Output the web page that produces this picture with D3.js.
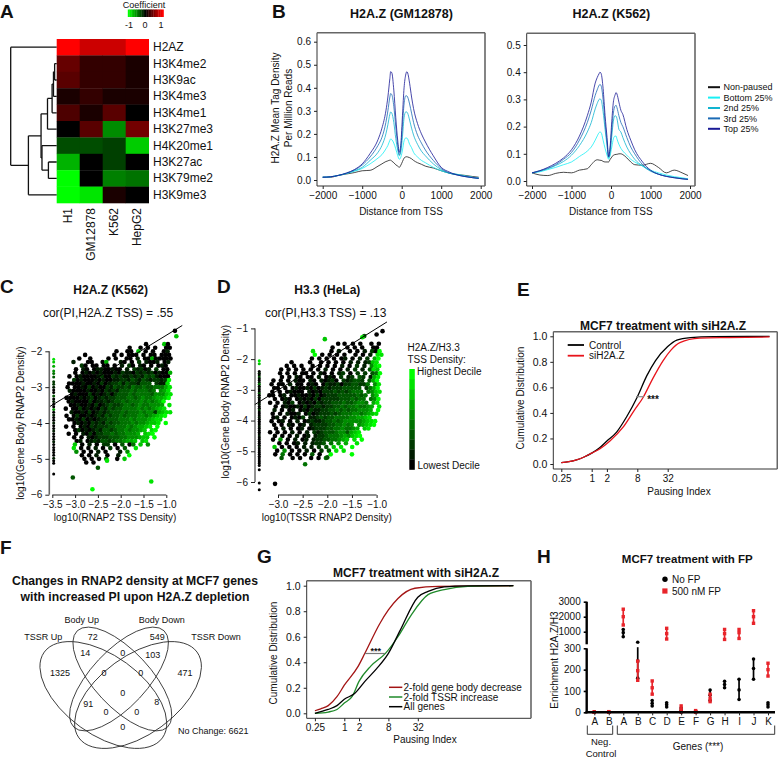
<!DOCTYPE html>
<html><head><meta charset="utf-8">
<script src="https://cdn.jsdelivr.net/npm/d3@7"></script>
<style>
html,body{margin:0;padding:0;background:#fff}
svg{display:block;font-family:"Liberation Sans",Arial,sans-serif}
text{fill:#111}
</style></head><body><div id="c"></div>
<script>
// ---------- Panel A ----------
const histoneMarks=["H2AZ","H3K4me2","H3K9ac","H3K4me3","H3K4me1","H3K27me3","H4K20me1","H3K27ac","H3K79me2","H3K9me3"];
const cellLines=["H1","GM12878","K562","HepG2"];
const coefficients=[[1,.8,.8,1],[.4,.2,.2,.1],[.35,.2,.2,.1],[.1,.2,.1,.1],[.3,.1,.35,0],[0,.35,-.55,.45],[-.3,-.3,-.25,-.8],[-.7,0,-.25,0],[-1,0,-.5,-.45],[-1,-.9,.1,0]];
const dendrogramTree={h:0,c:["H2AZ",{h:.385,c:[{h:.66,c:[{h:.8,c:[{h:.9,c:[{h:.93,c:[{h:.955,c:["H3K4me2","H3K9ac"]},"H3K4me3"]},"H3K4me1"]},"H3K27me3"]},{h:.68,c:["H4K20me1",{h:.82,c:["H3K27ac","H3K79me2"]}]}]},"H3K9me3"]}]};
// ---------- Panel B ----------
const tssDistance=[-2000,-1800,-1600,-1400,-1200,-1000,-800,-600,-500,-400,-350,-300,-280,-250,-200,-150,-100,-60,-20,20,60,100,130,150,200,250,300,400,500,600,800,1000,1200,1400,1600,1800,1950];
const pauseGroups=["Non-paused","Bottom 25%","2nd 25%","3rd 25%","Top 25%"];
const pauseColors=["#111111","#19f0f5","#12b4d0","#1b6bb5","#1a1a96"];
const gmNonPaused=[.012,.012,.02,.026,.032,.04,.042,.06,.07,.08,.083,.086,.086,.082,.075,.066,.06,.055,.065,.08,.095,.10,.101,.10,.097,.092,.085,.075,.068,.06,.052,.04,.03,.024,.02,.015,.012];
const gmBottom=[.012,.014,.02,.028,.038,.05,.07,.095,.11,.135,.15,.172,.178,.175,.16,.135,.105,.09,.10,.13,.17,.182,.182,.178,.155,.14,.12,.10,.085,.075,.055,.04,.03,.025,.018,.012,.008];
const gmSecond=[.012,.014,.02,.028,.04,.055,.085,.12,.15,.20,.24,.285,.295,.29,.25,.18,.13,.105,.125,.19,.27,.295,.295,.29,.26,.225,.195,.155,.125,.105,.07,.045,.03,.023,.016,.01,.007];
const gmThird=[.012,.014,.02,.03,.043,.065,.10,.15,.185,.25,.30,.36,.375,.37,.32,.23,.15,.11,.14,.24,.33,.365,.365,.36,.33,.29,.25,.195,.16,.13,.085,.05,.03,.022,.015,.01,.007];
const gmTop=[.012,.014,.02,.03,.045,.07,.115,.175,.225,.30,.36,.44,.47,.465,.39,.27,.17,.12,.16,.28,.40,.455,.47,.465,.42,.36,.31,.245,.20,.165,.105,.055,.035,.022,.015,.01,.007];
const kNonPaused=[.03,.022,.02,.028,.032,.03,.04,.045,.06,.075,.078,.077,.076,.076,.072,.07,.07,.07,.08,.088,.095,.097,.098,.098,.10,.1,.097,.085,.07,.06,.058,.065,.05,.03,.04,.03,.02];
const kBottom=[.03,.034,.042,.05,.06,.07,.09,.11,.125,.15,.165,.178,.18,.178,.15,.12,.095,.08,.095,.125,.155,.165,.165,.155,.135,.12,.11,.095,.08,.07,.055,.04,.03,.022,.016,.012,.008];
const kSecond=[.03,.036,.045,.057,.072,.095,.13,.18,.215,.265,.285,.30,.302,.298,.255,.19,.13,.085,.105,.165,.22,.24,.238,.23,.19,.18,.16,.125,.10,.08,.055,.036,.025,.018,.013,.009,.006];
const kThird=[.03,.038,.047,.06,.08,.105,.15,.215,.26,.315,.335,.352,.355,.35,.30,.215,.14,.088,.12,.19,.25,.275,.278,.27,.24,.215,.20,.16,.125,.10,.06,.038,.025,.017,.012,.008,.006];
const kTop=[.03,.038,.05,.065,.085,.115,.165,.24,.29,.36,.38,.395,.40,.395,.34,.24,.16,.09,.13,.22,.29,.315,.325,.32,.29,.26,.245,.19,.15,.115,.07,.04,.025,.017,.012,.008,.006];
// ---------- Panel C: rows, one digit per dot = decile ----------
const cRowY=[-1.8,-1.9,-2,-2.1,-2.2,-2.3,-2.4,-2.5,-2.6,-2.7,-2.8,-2.9,-3,-3.1,-3.2,-3.3,-3.4,-3.5,-3.6,-3.7,-3.8,-3.9,-4,-4.1,-4.2,-4.3,-4.4,-4.5,-4.6,-4.7,-4.8,-4.9,-5,-5.1];
const cRowShift=[.2,.7,.1,.5,.9,.3,.6,0,.8,.2,.5,.1,.7,.3,.9,.4,0,.6,.2,.8,.4,.1,.6,.3,.8,0,.5,.2,.7,.4,.1,.6,.3,.8];
const cRows=[
"                       0    70",
"                  0  0 0 0  00",
"               0  00 7 0 0  01",
"      0       0 0 000 0 00 000",
"    0  0    0 0  00 1 00600000",
"   1   00  06   10 0 2 1001 01",
"     20 00 00 0 1 20 10 0 010",
"    0 10 01100100 1 21201 2 00",
"   0 0101010001021102121201006",
"  0 01000012002121121213231000",
"   201000101001122132132122129",
"  00001001020122313221333 2118",
" 0 001020100213223243343344468",
"  100001001021213334344434 568",
"  0100020101202333434444355578",
" 00001012012122333443454456679",
"  010000201121233434445454569",
"  00100102012322344345445556 8",
" 0 00201010213233444454545678 ",
"  1001020121233343444545526788",
" 0 02001012132334344455456789 ",
"  00102010122333444545556788  ",
"   010102121323344454556778 9 ",
" 0 0 01021222334445456678 9   ",
"   02010121332344545567 89    ",
"  0 0 1020223343445556 789    ",
"   0 0 10122233344555677 9    ",
"    01 01213323445667 78      ",
"   7 0 1 0 22 0 3 04 7 5      ",
"   8 0 0 1 0 2 0 3  8         ",
"    5 0 0 1 0   1 5           ",
"     0 0 1  0  1  9           ",
"      0 0 0 3  0 7            ",
"      0 0                     "];
const cLooseX=[-0.81,-0.78,-2.5,-3.05,-2.62,-1.33,-2.3];
const cLooseY=[-1.43,-1.58,-5.25,-5.52,-5.85,-5.63,-5.05];
const cLooseDecile=[0,7,3,3,9,8,8];
const cColumnY=[-2.22,-2.3,-2.42,-2.55,-2.62,-2.72,-2.85,-2.92,-3,-3.08,-3.15,-3.25,-3.33,-3.4,-3.48,-3.55,-3.62,-3.7,-3.78,-3.85,-3.92,-4,-4.08,-4.15,-4.22,-4.3,-4.38,-4.45,-4.52,-4.6,-4.68,-4.75,-4.82,-4.9,-4.98,-5.05,-5.12,-5.42];
const cColumnDecile=[8,7,6,5,4,3,2,2,1,0,0,3,0,1,0,0,5,0,1,0,0,1,0,0,1,0,0,0,1,0,0,0,0,0,1,0,0,0];
// ---------- Panel D ----------
const dRowY=[-1.5,-1.62,-1.74,-1.86,-1.98,-2.1,-2.22,-2.34,-2.46,-2.58,-2.7,-2.82,-2.94,-3.06,-3.18,-3.3,-3.42,-3.54,-3.66,-3.78,-3.9,-4.02,-4.14,-4.26,-4.38,-4.5,-4.62,-4.74,-4.86,-4.98,-5.1,-5.22];
const dRowShift=[.6,.1,.8,.3,.5,0,.7,.2,.9,.4,.1,.6,.3,.8,0,.5,.2,.7,.4,.9,.1,.6,.3,.8,.2,.5,0,.7,.4,.1,.6,.3];
const dRows=[
"                   0   0 0  0 0",
"                  0   0 0 0  00",
"            8    0 1  0 0 1 209",
"             9 0 0 0 0  0 0 1 88",
"            0 0 0 0 01 0 1 2 69",
"       0    0  0 0 0 0 1 1 1278",
"     0 0 0  0 0 0 0 1 0 2 1 589",
"    0 0 0 0 0 0 1 0 0 1 2 1 387",
"   0 0 0 00 0 10 0 12 0 2 2 349",
"    0 0 10 00 1 010 2 12 32 168",
"  0 0 0 100 10 10120 212332 369",
" 0 00 1 00 010 0211202233224 58",
"  00 0 0100102012122233333 2469",
" 0 0 01000 101022232323444 4578",
" 00 01 001001020122233333434 57",
"  0 010 0101020222223334344 459",
" 0 0 102 0101021223334334554 68",
"  0 0100102012212233434454456 8",
"  1 0 01 01021122334343445556 9",
" 0 0 1001 02012223234445545678 ",
"  01 0 0102 11232334444556678  ",
" 0 01 0 1 01211233434555556789 ",
"  0 0 10 01 122223344545 56789 ",
"  0 1 0 01 01222334454456 78   ",
" 0 0 0 1 0 1 2123334553678     ",
"  0 0 0 1 01 1223444565789     ",
"  0 5 0 1 01 1223344567 8 9    ",
"   0 0 01 1 1223 4 5 6  8      ",
"  7 0 0 0 1 1 2 3 7 8  9       ",
"   0 5 0 0 1 0 2 3 8 8         ",
"  0 4 0 0 0 3 0  9             ",
"    3  0 0  0 0 4              "];
const dLooseX=[-2.05,-1.65,-1.25,-0.88,-1.29,-1.0,-2.45,-2.0,-1.5,-3.06];
const dLooseY=[-1.35,-1.5,-1.25,-1.09,-1.29,-1.2,-5.42,-5.2,-5.1,-6.06];
const dLooseDecile=[7,0,3,0,8,0,4,3,9,0];
const dColumnY=[-2.05,-2.15,-2.4,-2.46,-2.52,-2.58,-2.64,-2.7,-2.76,-2.82,-2.88,-2.94,-3,-3.06,-3.12,-3.18,-3.24,-3.3,-3.36,-3.42,-3.48,-3.54,-3.6,-3.66,-3.72,-3.78,-3.84,-3.9,-3.96,-4.02,-4.08,-4.14,-4.2,-4.26,-4.32,-4.38,-4.44,-4.5,-4.56,-4.62,-4.68,-4.74,-4.8,-4.86,-4.92,-4.98,-5.04,-5.1,-5.16,-5.22,-5.28,-5.34,-5.4,-5.46,-5.6,-6.03,-6.25];
const dColumnDecile=[8,7,0,1,0,3,0,0,1,4,0,1,0,0,3,0,1,0,0,0,1,0,0,2,0,0,0,1,0,0,0,0,1,0,0,0,0,1,0,0,0,0,0,1,0,0,0,0,0,0,0,0,0,0,0,0,0];
const decileLabels=["Highest Decile","Lowest Decile"];
const decileSteps=[9,8,7,6,5,4,3,2,1,0];
// ---------- Panel E ----------
const eControlLog2=[-2,-1.5,-1,-.5,0,.5,1,1.64,2.3,3,3.62,4.2,5,5.6,6.5,8,11.7];
const eControlCdf=[.01,.018,.032,.055,.085,.125,.18,.25,.37,.525,.69,.81,.92,.97,.99,.998,1];
const eSiLog2=[-2,-1.5,-1,-.5,0,.55,1.2,2.08,2.8,3.4,4,4.7,5.2,5.8,7.1,9,11.7];
const eSiCdf=[.01,.018,.032,.055,.085,.12,.18,.29,.42,.525,.665,.81,.89,.95,.985,.99,.995];
const eLegend=["Control","siH2A.Z"];
const pauseTicks=[-2,0,1,3,5];
const pauseTickLabels=["0.25","1","2","8","32"];
// ---------- Panel F ----------
const vennCounts=["72","549","14","0","103","1325","0","0","471","0","91","8","0","0","0"];
const vennSets=["Body Up","Body Down","TSSR Up","TSSR Down"];
// ---------- Panel G ----------
const gRedLog2=[-2,-1.6,-1.09,-.5,0,.95,1.4,2.4,3,3.65,4.8,6.4,11.5];
const gRedCdf=[.02,.035,.06,.13,.22,.37,.47,.70,.81,.90,.98,.995,1];
const gGreenLog2=[-2,-1.1,-.5,0,.55,1,1.8,2.8,3.65,4.55,5.7,6.8,8.4,11.5];
const gGreenCdf=[0,.01,.03,.08,.135,.25,.37,.47,.6,.77,.93,.97,.995,1];
const gBlackLog2=[-2,-1.1,-.5,0,.7,1.4,2.2,3,3.8,5,5.7,6.8,8.4,11.5];
const gBlackCdf=[0,.03,.06,.11,.155,.25,.35,.47,.65,.91,.955,.99,.998,1];
const gLegend=["2-fold gene body decrease","2-fold TSSR increase","All genes"];
// ---------- Panel H ----------
const hCategories=["nA","nB","A","B","C","D","E","F","G","H","I","J","K"];
const hLabels=["A","B","A","B","C","D","E","F","G","H","I","J","K"];
const hNoFpLow=[0,0,741,160,30,25,0,0,55,115,60,155,25];
const hNoFpMid=[0,0,950,240,42,35,10,3,80,130,105,205,35];
const hNoFpHigh=[0,0,1150,450,55,45,20,6,104,145,155,250,45];
const hFpLow=[0,0,1447,150,85,622,2,0,50,600,650,1560,170];
const hFpMid=[0,0,2000,195,115,900,15,3,65,900,950,2000,200];
const hFpHigh=[2,3,2500,240,147,1226,30,8,85,1150,1150,2400,230];
const hTicks=[0,100,200,300,1000,2000,3000];

const svg=d3.select("#c").append("svg").attr("width",778).attr("height",759).attr("viewBox","0 0 778 759");
const TXT=(x,y,s,o={})=>{const t=svg.append("text").attr("x",x).attr("y",y).text(s)
  .attr("font-size",o.fs||10).attr("text-anchor",o.a||"start").attr("font-weight",o.b?"bold":null);
  if(o.r!=null)t.attr("transform",`rotate(${o.r},${x},${y})`);return t;};
[["A",0,18],["B",272,18],["C",0,293],["D",217,293],["E",517,296],["F",0,554],["G",257,563],["H",537,563]]
  .forEach(d=>TXT(d[1],d[2],d[0],{fs:19,b:true}));

// ===== A
const cScale=d3.scaleLinear().domain([-1,0,1]).range(["#00ff00","#000000","#ff0000"]);
const ax=d3.scaleBand().domain(cellLines).range([56.7,148.7]);
const ay=d3.scaleBand().domain(histoneMarks).range([39,203]);
coefficients.forEach((row,i)=>row.forEach((v,j)=>svg.append("rect").attr("x",ax(cellLines[j])).attr("y",ay(histoneMarks[i]))
  .attr("width",ax.bandwidth()+.3).attr("height",ay.bandwidth()+.3).attr("fill",cScale(v))));
histoneMarks.forEach(m=>TXT(153,ay(m)+ay.bandwidth()/2+4,m,{fs:12}));
cellLines.forEach(c=>{const x=ax(c)+ax.bandwidth()/2+4;TXT(x,208,c,{fs:12,a:"end",r:-90});});
(function(){
  function draw(n){
    if(typeof n==="string")return{y:ay(n)+ay.bandwidth()/2,x:56.7};
    const x=d3.scaleLinear().domain([0,1]).range([10.7,56.7])(n.h);
    const k=n.c.map(draw),y=(k[0].y+k[1].y)/2;
    const p=d3.path();
    k.forEach(q=>{p.moveTo(x,q.y);p.lineTo(q.x,q.y);});
    p.moveTo(x,k[0].y);p.lineTo(x,k[1].y);
    svg.append("path").attr("d",p.toString()).attr("fill","none").attr("stroke","#111").attr("stroke-width",1.3);
    return{x,y};
  }
  draw(dendrogramTree);
})();
const lgX=d3.scaleLinear().domain([-1,1]).range([128,162]);
d3.range(-1,1.001,.1).forEach(v=>svg.append("rect").attr("x",lgX(v)-.2).attr("y",9.5).attr("width",2).attr("height",7.5).attr("fill",cScale(v)));
TXT(144,8,"Coefficient",{fs:9,a:"middle"});
[-1,0,1].forEach(v=>TXT(lgX(v)+(v==-1?1:v==1?-1:0),28,v==-1?"-1":v,{fs:9,a:"middle"}));

// helpers
function styleAxis(g,fs){g.selectAll("text").attr("font-size",fs||10).attr("font-family","inherit").attr("fill","#111");
  g.selectAll("line").attr("stroke","#222");g.selectAll("path").attr("stroke","#222");}
function frame(x0,x1,y0,y1){
  const l=(a,b,c,d,s,w)=>svg.append("line").attr("x1",a).attr("y1",b).attr("x2",c).attr("y2",d).attr("stroke",s).attr("stroke-width",w);
  l(x0,y0,x0,y1,"#333",1);l(x0,y1,x1,y1,"#333",1);l(x0,y0,x1,y0,"#666",1.6);l(x1,y0,x1,y1,"#666",1.6);
}

// ===== B
function profile(cfg){
  const x=d3.scaleLinear().domain([-2000,2000]).range(cfg.xr);
  const y=d3.scaleLinear().domain([0,cfg.ym]).range(cfg.yr);
  frame(cfg.f[0],cfg.f[1],cfg.f[2],cfg.f[3]);
  const ln=d3.line().x((d,i)=>x(tssDistance[i])).y(d=>y(d)).curve(d3.curveMonotoneX);
  cfg.series.forEach((s,i)=>svg.append("path").attr("d",ln(s)).attr("fill","none").attr("stroke",pauseColors[i]).attr("stroke-width",i==0?.9:1).attr("opacity",i==0?.85:.8));
  const gx=svg.append("g").attr("transform",`translate(0,${cfg.f[3]})`).call(d3.axisBottom(x).tickValues([-2000,-1000,0,1000,2000]).tickSize(3).tickFormat(d3.format("d")));
  gx.select(".domain").remove();styleAxis(gx,10);
  const gy=svg.append("g").attr("transform",`translate(${cfg.f[0]},0)`).call(d3.axisLeft(y).ticks(cfg.ym*10).tickSize(3).tickFormat(d3.format(".1f")));
  gy.select(".domain").remove();styleAxis(gy,10);
  TXT((cfg.f[0]+cfg.f[1])/2+.5,17.5,cfg.title,{fs:12.5,a:"middle",b:true});
  TXT((cfg.f[0]+cfg.f[1])/2,215,"Distance from TSS",{fs:10,a:"middle"});
}
profile({xr:[322.7,480.7],yr:[180,41.7],ym:.6,f:[317,485,32.7,186],title:"H2A.Z (GM12878)",series:[gmNonPaused,gmBottom,gmSecond,gmThird,gmTop]});
profile({xr:[532,690],yr:[181,45],ym:.5,f:[526.7,695,33.3,186],title:"H2A.Z (K562)",series:[kNonPaused,kBottom,kSecond,kThird,kTop]});
TXT(279,108,"H2A.Z Mean Tag Density",{fs:10,a:"middle",r:-90});
TXT(291.5,108,"Per Million Reads",{fs:10,a:"middle",r:-90});
const bLeg=d3.scaleBand().domain(pauseGroups).range([82,134]);
pauseGroups.forEach((g,i)=>{const y=bLeg(g)+bLeg.bandwidth()/2;
  svg.append("line").attr("x1",708).attr("x2",720).attr("y1",y).attr("y2",y).attr("stroke",pauseColors[i]).attr("stroke-width",2);
  TXT(723.5,y+3.2,g,{fs:9});});

// ===== C, D scatter
const dColor=d3.scaleLinear().domain([0,9]).range(["#000000","#00ff00"]);
function scatter(cfg){
  const x=d3.scaleLinear().domain(cfg.xd).range(cfg.xr);
  const y=d3.scaleLinear().domain(cfg.yd).range(cfg.yr);
  const pts=[];
  cfg.rows.forEach((r,i)=>{[...r].forEach((ch,j)=>{if(ch!==" ")pts.push([cfg.x0+cfg.dx*(j+cfg.shift[i]),cfg.rowY[i],+ch]);});});
  cfg.lx.forEach((v,i)=>pts.push([v,cfg.ly[i],cfg.ld[i]]));
  cfg.colY.forEach((v,i)=>pts.push([cfg.colX,v,cfg.colD[i]]));
  svg.append("g").selectAll("circle").data(pts).join("circle")
    .attr("cx",d=>x(d[0])).attr("cy",d=>y(d[1])).attr("r",d=>d[0]===cfg.colX?1.5:2.3).attr("fill",d=>dColor(d[2]));
  svg.append("line").attr("x1",x(cfg.line[0])).attr("y1",y(cfg.line[1])).attr("x2",x(cfg.line[2])).attr("y2",y(cfg.line[3])).attr("stroke","#000").attr("stroke-width",1);
  const gx=svg.append("g").attr("transform",`translate(0,${cfg.ax})`).call(d3.axisBottom(x).tickValues(cfg.xt).tickSize(3).tickSizeOuter(0).tickFormat(d3.format(".1f")));
  styleAxis(gx,10);gx.select(".domain").attr("d",`M${cfg.xr[0]},0H${cfg.xr[1]}`);
  const gy=svg.append("g").attr("transform",`translate(${cfg.ayx},0)`).call(d3.axisLeft(y).tickValues(cfg.yt).tickSize(4).tickFormat(d3.format(".0f")));
  styleAxis(gy,10);gy.select(".domain").attr("d",`M0,${cfg.yr[0]}V${cfg.yr[1]}`).attr("stroke",cfg.ayc).attr("stroke-width",cfg.ayw);
}
scatter({xd:[-3.5,-1],xr:[52.3,166.3],yd:[-6,-2],yr:[494.7,351.3],rows:cRows,rowY:cRowY,shift:cRowShift,x0:-3.3,dx:.08,lx:cLooseX,ly:cLooseY,ld:cLooseDecile,
  colX:-3.47,colY:cColumnY,colD:cColumnDecile,line:[-3.565,-3.55,-.65,-1.28],ax:495,ayx:49.3,ayc:"#666",ayw:1.6,xt:[-3.5,-3,-2.5,-2,-1.5,-1],yt:[-2,-3,-4,-5,-6]});
scatter({xd:[-3,-1],xr:[278,376.6],yd:[-6,-1],yr:[482,328.4],rows:dRows,rowY:dRowY,shift:dRowShift,x0:-3.25,dx:.075,lx:dLooseX,ly:dLooseY,ld:dLooseDecile,
  colX:-3.38,colY:dColumnY,colD:dColumnDecile,line:[-3.47,-3.48,-.79,-.79],ax:495,ayx:255,ayc:"#222",ayw:1,xt:[-3,-2.5,-2,-1.5,-1],yt:[-1,-2,-3,-4,-5,-6]});
TXT(110.7,294,"H2A.Z (K562)",{fs:12,a:"middle",b:true});
TXT(108,317,"cor(PI,H2A.Z TSS) = .55",{fs:12,a:"middle"});
TXT(115,521,"log10(RNAP2 TSS Density)",{fs:10,a:"middle"});
TXT(24,423,"log10(Gene Body RNAP2 Density)",{fs:10,a:"middle",r:-90});
TXT(327.3,294,"H3.3 (HeLa)",{fs:12,a:"middle",b:true});
TXT(325.7,317,"cor(PI,H3.3 TSS) = .13",{fs:12,a:"middle"});
TXT(326.7,521,"log10(TSSR RNAP2 Density)",{fs:10,a:"middle"});
TXT(229,401.7,"log10(Gene Body RNAP2 Density)",{fs:10,a:"middle",r:-90});
TXT(407.5,351,"H2A.Z/H3.3",{fs:10});TXT(407.5,363,"TSS Density:",{fs:10});
const barY=d3.scaleBand().domain(decileSteps).range([369,469.5]);
decileSteps.forEach(d=>svg.append("rect").attr("x",409.3).attr("y",barY(d)).attr("width",5.5).attr("height",barY.bandwidth()+.3).attr("fill",dColor(d)));
TXT(417,375,decileLabels[0],{fs:10});TXT(417.5,469,decileLabels[1],{fs:10});

// ===== E, G cdf
function cdfAxes(cfg){
  const x=d3.scaleLinear().domain([0,5]).range([cfg.x0,cfg.x5]);
  const y=d3.scaleLinear().domain([0,1]).range(cfg.yr);
  frame(cfg.f[0],cfg.f[1],cfg.f[2],cfg.f[3]);
  const gx=svg.append("g").attr("transform",`translate(0,${cfg.f[3]})`).call(d3.axisBottom(x).tickValues(pauseTicks).tickSize(3).tickFormat((d,i)=>pauseTickLabels[i]));
  gx.select(".domain").remove();styleAxis(gx,10);
  const gy=svg.append("g").attr("transform",`translate(${cfg.f[0]},0)`).call(d3.axisLeft(y).ticks(5).tickSize(3).tickFormat(d3.format(".1f")));
  gy.select(".domain").remove();styleAxis(gy,10.5);
  return d3.line().curve(d3.curveMonotoneX).x(d=>x(d[0])).y(d=>y(d[1]));
}
const zip=(a,b)=>a.map((v,i)=>[v,b[i]]);
const PL=(d,c,w)=>svg.append("path").attr("d",d).attr("fill","none").attr("stroke",c).attr("stroke-width",w||1.3);
const le=cdfAxes({x0:591.7,x5:667.7,yr:[464,336.3],f:[553.3,777.3,331.7,469]});
PL(le(zip(eControlLog2,eControlCdf)),"#000");
PL(le(zip(eSiLog2,eSiCdf)),"#e8141c");
svg.append("line").attr("x1",636).attr("x2",644).attr("y1",396.7).attr("y2",396.7).attr("stroke","#888").attr("stroke-width",1.2);
TXT(653,403,"***",{fs:10,a:"middle",b:true});
TXT(663,329.5,"MCF7 treatment with siH2A.Z",{fs:12,a:"middle",b:true});
["#000","#e8141c"].forEach((c,i)=>{const y=345+i*10.7;
  svg.append("line").attr("x1",567.7).attr("x2",584).attr("y1",y).attr("y2",y).attr("stroke",c).attr("stroke-width",1.8);
  TXT(589,y+3.5,eLegend[i],{fs:10});});
TXT(524,398,"Cumulative Distribution",{fs:10,a:"middle",r:-90});
TXT(679,495,"Pausing Index",{fs:10,a:"middle"});

const lg=cdfAxes({x0:344.3,x5:417.8,yr:[713.3,585.7],f:[306.7,531,580.7,718.3]});
const gCols=["#a31414","#1f8a2a","#000"];
PL(lg(zip(gRedLog2,gRedCdf)),gCols[0]);
PL(lg(zip(gGreenLog2,gGreenCdf)),gCols[1]);
PL(lg(zip(gBlackLog2,gBlackCdf)),gCols[2]);
svg.append("line").attr("x1",365).attr("x2",385).attr("y1",653.5).attr("y2",653.5).attr("stroke","#777").attr("stroke-width",1.2);
TXT(375.7,654,"***",{fs:9,a:"middle",b:true});
TXT(416,577,"MCF7 treatment with siH2A.Z",{fs:12,a:"middle",b:true});
gCols.forEach((c,i)=>{const y=687.3+i*9.7;
  svg.append("line").attr("x1",389).attr("x2",402.3).attr("y1",y).attr("y2",y).attr("stroke",c).attr("stroke-width",1.5);
  TXT(403.5,y+3.5,gLegend[i],{fs:10});});
TXT(277,653,"Cumulative Distribution",{fs:10,a:"middle",r:-90});
TXT(425,743,"Pausing Index",{fs:10,a:"middle"});

// ===== F
TXT(135,585,"Changes in RNAP2 density at MCF7 genes",{fs:12.2,a:"middle",b:true});
TXT(135,601,"with increased PI upon H2A.Z depletion",{fs:12.2,a:"middle",b:true});
const vx=v=>v/3, vy=v=>540+v/3;
[[310,465,219,118,36],[414,465,219,118,-36],[367,417,198,84,47],[357,417,198,84,-47]].forEach(e=>
  svg.append("ellipse").attr("cx",0).attr("cy",0).attr("rx",vx(e[2])).attr("ry",vx(e[3]))
   .attr("transform",`translate(${vx(e[0])},${vy(e[1])}) rotate(${e[4]})`).attr("fill","none").attr("stroke","#222").attr("stroke-width",.8));
const vennPos=[[278,290],[472,290],[256,340],[368,338],[458,345],[180,398],[312,398],[422,398],[555,398],[368,458],[265,492],[470,487],[318,515],[410,515],[368,562]];
vennCounts.forEach((c,i)=>TXT(vx(vennPos[i][0]),vy(vennPos[i][1])+3,c,{fs:9,a:"middle"}));
[[245,240],[485,240],[130,290],[648,290]].forEach((p,i)=>TXT(vx(p[0]),vy(p[1])+3,vennSets[i],{fs:9,a:"middle"}));
TXT(vx(640),vy(573)+3,"No Change: 6621",{fs:9,a:"middle"});

// ===== H
const hx=d3.scalePoint().domain(hCategories).range([594.3,768]);
const hy=d3.scaleLinear().domain([0,300,400,1000,3000]).range([712.3,648.3,643.3,631.7,601.7]);
[[hNoFpLow,hNoFpMid,hNoFpHigh,"#000",1],[hFpLow,hFpMid,hFpHigh,"#e8242a",0]].forEach(s=>{
  hCategories.forEach((c,i)=>{
    const x=hx(c);
    svg.append("line").attr("x1",x).attr("x2",x).attr("y1",hy(s[0][i])).attr("y2",hy(s[2][i])).attr("stroke",s[3]).attr("stroke-width",1.7);
    [s[0][i],s[1][i],s[2][i]].forEach(v=>{
      if(s[4])svg.append("circle").attr("cx",x).attr("cy",hy(v)).attr("r",1.8).attr("fill",s[3]);
      else svg.append("rect").attr("x",x-1.7).attr("y",hy(v)-1.7).attr("width",3.4).attr("height",3.4).attr("fill",s[3]);
    });
  });
});
svg.append("line").attr("x1",628).attr("x2",648).attr("y1",645.5).attr("y2",645.5).attr("stroke","#fff").attr("stroke-width",3.4);
const hAxis=svg.append("g").attr("transform","translate(586.7,0)").call(d3.axisLeft(hy).tickValues(hTicks).tickSize(3).tickFormat(d3.format("d")));
hAxis.select(".domain").remove();styleAxis(hAxis,10);hAxis.selectAll("line").attr("stroke-width",1.6).attr("stroke","#000");
[[0,300],[400,3000]].forEach(s=>svg.append("line").attr("x1",586.7).attr("x2",586.7).attr("y1",hy(s[0])+1).attr("y2",hy(s[1])).attr("stroke","#000").attr("stroke-width",2.4));
const hBase=svg.append("g").attr("transform",`translate(0,${hy(0)})`).call(d3.axisBottom(hx).tickSize(3).tickFormat((d,i)=>hLabels[i]));
hBase.select(".domain").attr("d","M585.5,0H775");
styleAxis(hBase,10);hBase.select(".domain").attr("stroke","#000").attr("stroke-width",2.6);
TXT(687.3,563,"MCF7 treatment with FP",{fs:11.5,a:"middle",b:true});
svg.append("circle").attr("cx",665).attr("cy",579.3).attr("r",2.7).attr("fill","#000");
svg.append("rect").attr("x",662.3).attr("y",588.4).attr("width",5.2).attr("height",5.2).attr("fill","#e8242a");
TXT(672,583,"No FP",{fs:10});TXT(672,595,"500 nM FP",{fs:10});
TXT(557.5,660,"Enrichment H2A.Z/H3",{fs:10,a:"middle",r:-90});
[[587.3,612.7],[617.3,774.7]].forEach(b=>svg.append("path").attr("d",d3.line()([[b[0],725.5],[b[0],734.3],[b[1],734.3],[b[1],725.5]])).attr("fill","none").attr("stroke","#222").attr("stroke-width",.9));
TXT(601,745,"Neg.",{fs:9.5,a:"middle"});TXT(601,756.5,"Control",{fs:9.5,a:"middle"});
TXT(698,750,"Genes (***)",{fs:10,a:"middle"});
</script></body></html>
